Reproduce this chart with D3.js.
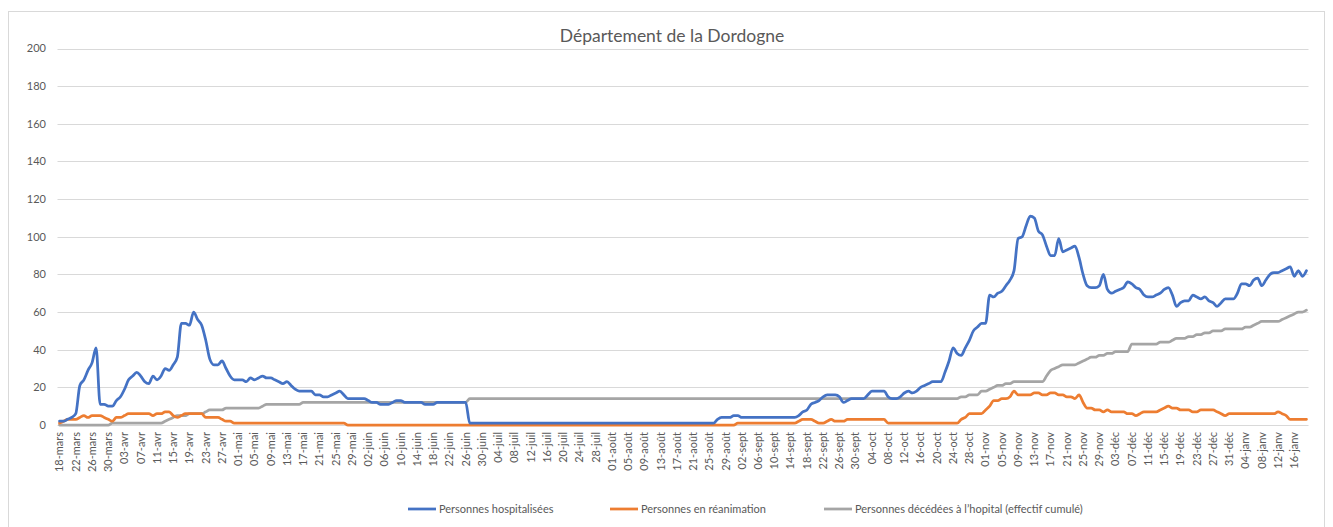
<!DOCTYPE html>
<html>
<head>
<meta charset="utf-8">
<script src="https://cdn.jsdelivr.net/npm/d3@7"></script>
<style>
  body { margin: 0; background: #fff; }
  svg text { font-family: Lato, "Open Sans", sans-serif; fill: #595959; }
</style>
</head>
<body>
<div id="chart"></div>
<script>
// daily values from 18-mars-2020
var hospitalises = [
  2,2,3,4,6,21,24,29,33,41, 11,11,10,10,13,15,19,24,26,28,
  26,23,22,26,24,26,30,29,32,36, 54,54,53,60,56,53,45,35,32,32,
  34,30,26,24,24,24,23,25,24,25, 26,25,25,24,23,22,23,21,19,18,
  18,18,18,16,16,15,15,16,17,18, 16,14,14,14,14,14,13,12,12,11,
  11,11,12,13,13,12,12,12,12,12, 11,11,11,12,12,12,12,12,12,12,
  12,1,1,1,1,1,1,1,1,1, 1,1,1,1,1,1,1,1,1,1,
  1,1,1,1,1,1,1,1,1,1, 1,1,1,1,1,1,1,1,1,1,
  1,1,1,1,1,1,1,1,1,1, 1,1,1,1,1,1,1,1,1,1,
  1,1,3,4,4,4,5,5,4,4, 4,4,4,4,4,4,4,4,4,4,
  4,4,5,7,8,11,12,13,15,16, 16,16,15,12,13,14,14,14,14,16,
  18,18,18,18,15,14,14,15,17,18, 17,18,20,21,22,23,23,23,28,34,
  41,38,37,41,45,50,52,54,54,69, 68,70,71,74,77,82,99,100,106,111,
  110,103,101,95,90,90,99,92,93,94, 95,89,80,74,73,73,74,80,72,70,
  71,72,73,76,75,73,72,69,68,68, 69,70,72,73,69,63,65,66,66,69,
  68,67,68,66,65,63,65,67,67,67, 70,75,75,74,77,78,74,77,80,81,
  81,82,83,84,79,82,79,82
];
var reanimation = [
  1,2,3,3,3,4,5,4,5,5, 5,4,3,2,4,4,5,6,6,6,
  6,6,6,5,6,6,7,7,5,4, 5,6,6,6,6,6,4,4,4,4,
  3,2,2,1,1,1,1,1,1,1, 1,1,1,1,1,1,1,1,1,1,
  1,1,1,1,1,1,1,1,1,1, 1,0,0,0,0,0,0,0,0,0,
  0,0,0,0,0,0,0,0,0,0, 0,0,0,0,0,0,0,0,0,0,
  0,0,0,0,0,0,0,0,0,0, 0,0,0,0,0,0,0,0,0,0,
  0,0,0,0,0,0,0,0,0,0, 0,0,0,0,0,0,0,0,0,0,
  0,0,0,0,0,0,0,0,0,0, 0,0,0,0,0,0,0,0,0,0,
  0,0,0,0,0,0,0,1,1,1, 1,1,1,1,1,1,1,1,1,1,
  1,1,2,3,3,3,2,1,1,2, 3,2,2,2,3,3,3,3,3,3,
  3,3,3,3,1,1,1,1,1,1, 1,1,1,1,1,1,1,1,1,1,
  1,1,3,4,6,6,6,6,8,10, 13,13,14,14,15,18,16,16,16,16,
  17,17,16,16,17,17,16,16,15,15, 14,16,12,9,9,8,8,7,8,7,
  7,7,7,6,6,5,6,7,7,7, 7,8,9,10,9,9,8,8,8,7,
  7,8,8,8,8,7,6,5,6,6, 6,6,6,6,6,6,6,6,6,6,
  7,6,5,3,3,3,3,3
];
var decedes = [
  0,0,0,0,0,0,0,0,0,0, 0,0,0,1,1,1,1,1,1,1,
  1,1,1,1,1,1,2,3,4,5, 5,5,6,6,6,6,7,8,8,8,
  8,9,9,9,9,9,9,9,9,9, 10,11,11,11,11,11,11,11,11,11,
  12,12,12,12,12,12,12,12,12,12, 12,12,12,12,12,12,12,12,12,12,
  12,12,12,12,12,12,12,12,12,12, 12,12,12,12,12,12,12,12,12,12,
  12,14,14,14,14,14,14,14,14,14, 14,14,14,14,14,14,14,14,14,14,
  14,14,14,14,14,14,14,14,14,14, 14,14,14,14,14,14,14,14,14,14,
  14,14,14,14,14,14,14,14,14,14, 14,14,14,14,14,14,14,14,14,14,
  14,14,14,14,14,14,14,14,14,14, 14,14,14,14,14,14,14,14,14,14,
  14,14,14,14,14,14,14,14,14,14, 14,14,14,14,14,14,14,14,14,14,
  14,14,14,14,14,14,14,14,14,14, 14,14,14,14,14,14,14,14,14,14,
  14,14,15,15,16,16,16,18,18,19, 20,21,21,22,22,23,23,23,23,23,
  23,23,23,26,29,30,31,32,32,32, 32,33,34,35,36,36,37,37,38,38,
  39,39,39,39,43,43,43,43,43,43, 43,44,44,44,45,46,46,46,47,47,
  48,48,49,49,50,50,50,51,51,51, 51,51,52,52,53,54,55,55,55,55,
  55,56,57,58,59,60,60,61
];
var moisLabels = ["janv","févr","mars","avr","mai","juin","juil","août","sept","oct","nov","déc"];
var yTicks = [0,20,40,60,80,100,120,140,160,180,200];
var seriesNames = ["Personnes hospitalisées", "Personnes en réanimation", "Personnes décédées à l’hopital (effectif cumulé)"];
var seriesColors = ["#4472c4", "#ed7d31", "#a5a5a5"];

var W = 1333, H = 527;
var svg = d3.select("#chart").append("svg")
  .attr("width", W)
  .attr("height", H);

// chart frame
svg.append("rect")
  .attr("x", 8.5).attr("y", 11.5)
  .attr("width", 1316).attr("height", 540)
  .attr("fill", "#fff")
  .attr("stroke", "#d9d9d9");

svg.append("text")
  .attr("x", 672).attr("y", 42)
  .attr("text-anchor", "middle")
  .style("font-size", "17.5px")
  .text("Département de la Dordogne");

var start = new Date(Date.UTC(2020, 2, 18));
var jours = d3.range(hospitalises.length).map(function(i) { return d3.utcDay.offset(start, i); });
var fmtJour = d3.utcFormat("%d");
var label = function(d) { return fmtJour(d) + "-" + moisLabels[d.getUTCMonth()]; };

var xScale = d3.scaleBand()
  .domain(d3.range(jours.length))
  .range([57.5, 1308.5]);

var yScale = d3.scaleLinear()
  .domain([0, 200])
  .range([425, 48.5]);

// gridlines + y labels
svg.append("g")
  .selectAll("line")
  .data(yTicks)
  .enter().append("line")
  .attr("x1", 57.5).attr("x2", 1308.5)
  .attr("y1", function(d) { return Math.round(yScale(d)) + 0.5; })
  .attr("y2", function(d) { return Math.round(yScale(d)) + 0.5; })
  .attr("stroke", "#d9d9d9")
  .attr("stroke-width", 1);

svg.append("g")
  .selectAll("text")
  .data(yTicks)
  .enter().append("text")
  .attr("x", 46)
  .attr("y", function(d) { return yScale(d); })
  .attr("dy", "0.35em")
  .attr("text-anchor", "end")
  .style("font-size", "11px")
  .text(function(d) { return d; });

// x labels, one every 4 days
var tickIdx = d3.range(0, jours.length, 4).filter(function(i) { return i <= 304; });
svg.append("g")
  .selectAll("text")
  .data(tickIdx)
  .enter().append("text")
  .attr("transform", function(i) {
    return "translate(" + (xScale(i) + xScale.bandwidth() / 2) + ",432) rotate(-90)";
  })
  .attr("dy", "0.35em")
  .attr("text-anchor", "end")
  .style("font-size", "11px")
  .text(function(i) { return label(jours[i]); });

var line = d3.line()
  .x(function(d, i) { return xScale(i) + xScale.bandwidth() / 2; })
  .y(function(d) { return yScale(d); })
  .curve(d3.curveMonotoneX);

var series = [hospitalises, reanimation, decedes];
// draw gray first so blue sits on top, like the original
[2, 1, 0].forEach(function(k) {
  svg.append("path")
    .datum(series[k])
    .attr("d", line)
    .attr("fill", "none")
    .attr("stroke", seriesColors[k])
    .attr("stroke-width", 2.75)
    .attr("stroke-linejoin", "round")
    .attr("stroke-linecap", "round");
});

// legend
var legendX = [408, 610, 824];
var lg = svg.append("g").selectAll("g")
  .data(seriesNames)
  .enter().append("g")
  .attr("transform", function(d, i) { return "translate(" + legendX[i] + ",509)"; });
lg.append("line")
  .attr("x1", 0).attr("x2", 28)
  .attr("stroke", function(d, i) { return seriesColors[i]; })
  .attr("stroke-width", 2.75);
lg.append("text")
  .attr("x", 31)
  .attr("dy", "0.35em")
  .style("font-size", "11px")
  .text(function(d) { return d; });
</script>
</body>
</html>
